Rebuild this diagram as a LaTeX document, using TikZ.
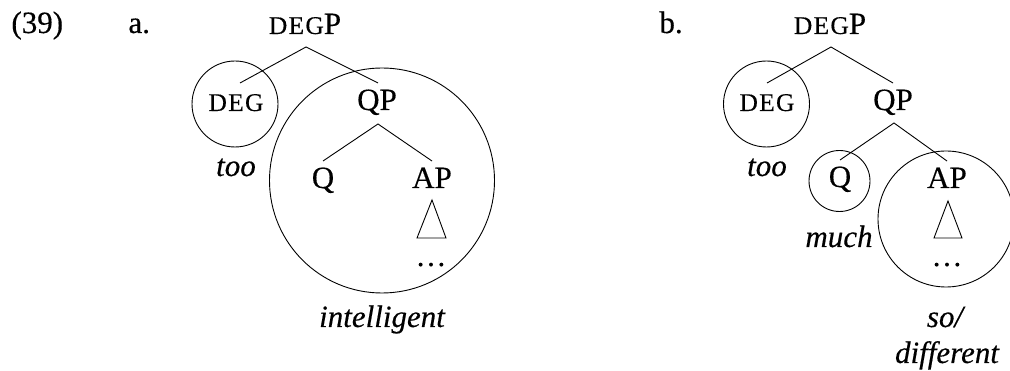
\documentclass[tikz,border=0pt]{standalone}
\usepackage{fontspec}
\setmainfont{Liberation Serif}[FakeBold=0.35]
\newcommand\fsc[1]{{\fontsize{25.5}{28}\selectfont\addfontfeature{LetterSpace=5}#1}}
\begin{document}
\begin{tikzpicture}[x=1pt,y=-1pt,line width=0.9pt,
  lbl/.style={inner sep=0pt,anchor=base,font=\fontsize{31}{34}\selectfont},
  ital/.style={lbl,font=\fontsize{31}{34}\selectfont\itshape},
  ring/.style={draw,circle,inner sep=0pt},
  branch/.style={draw},
  tri/.style={draw,line join=miter}]
\useasboundingbox (0,0) rectangle (1010,371);
% example labels
\node[lbl,anchor=base west] (num) at (11,33) {(39)};
\node[lbl,anchor=base west] (la) at (128,33) {a.};
\node[lbl,anchor=base west] (lb) at (659,33) {b.};
% ---------- tree a ----------
\node[lbl] (degpA) at (305,34) {\fsc{DEG}P};
\node[lbl] (degA) at (236,111) {\fsc{DEG}};
\node[lbl] (qpA) at (377,110) {QP};
\node[lbl] (qA) at (323,188) {Q};
\node[lbl] (apA) at (432,188) {AP};
\node[lbl] (dotsA) at (431,266) {…};
\node[ital] (tooA) at (236,176) {too};
\node[ital] (intA) at (382,327) {intelligent};
\coordinate (degpA-b) at (306,47);
\coordinate (degA-t) at (240,83);
\coordinate (qpA-t) at (378,83);
\coordinate (qpA-b) at (378,124);
\coordinate (qA-t) at (323,161);
\coordinate (apA-t) at (432,161);
\draw[branch] (degA-t) -- (degpA-b) -- (qpA-t);
\draw[branch] (qA-t) -- (qpA-b) -- (apA-t);
\coordinate (triA-top) at (432,200);
\coordinate (triA-l) at (417,238);
\coordinate (triA-r) at (446,238);
\draw[tri] (triA-top) -- (triA-l) -- (triA-r) -- cycle;
\node[ring,minimum size=86pt] (cDegA) at (235,104) {};
\node[ring,minimum size=225pt] (cQpA) at (382,180.5) {};
% ---------- tree b ----------
\node[lbl] (degpB) at (830,34) {\fsc{DEG}P};
\node[lbl] (degB) at (767,111) {\fsc{DEG}};
\node[lbl] (qpB) at (893,110) {QP};
\node[lbl] (qB) at (840,187) {Q};
\node[lbl] (apB) at (947,188) {AP};
\node[lbl] (dotsB) at (947,266) {…};
\node[ital] (tooB) at (767,176) {too};
\node[ital] (muchB) at (839,247) {much};
\node[ital] (soB) at (945,327) {so/};
\node[ital] (difB) at (947,363) {different};
\coordinate (degpB-b) at (831,47);
\coordinate (degB-t) at (767,83);
\coordinate (qpB-t) at (893,83);
\coordinate (qpB-b) at (894,123);
\coordinate (qB-t) at (840,160);
\coordinate (apB-t) at (947,161);
\draw[branch] (degB-t) -- (degpB-b) -- (qpB-t);
\draw[branch] (qB-t) -- (qpB-b) -- (apB-t);
\coordinate (triB-top) at (948,201);
\coordinate (triB-l) at (934,238);
\coordinate (triB-r) at (962,238);
\draw[tri] (triB-top) -- (triB-l) -- (triB-r) -- cycle;
\node[ring,minimum size=86pt] (cDegB) at (766.5,104) {};
\node[ring,minimum size=61pt] (cQB) at (839.5,181) {};
\node[ring,minimum size=136pt] (cApB) at (946,219) {};
\end{tikzpicture}
\end{document}
